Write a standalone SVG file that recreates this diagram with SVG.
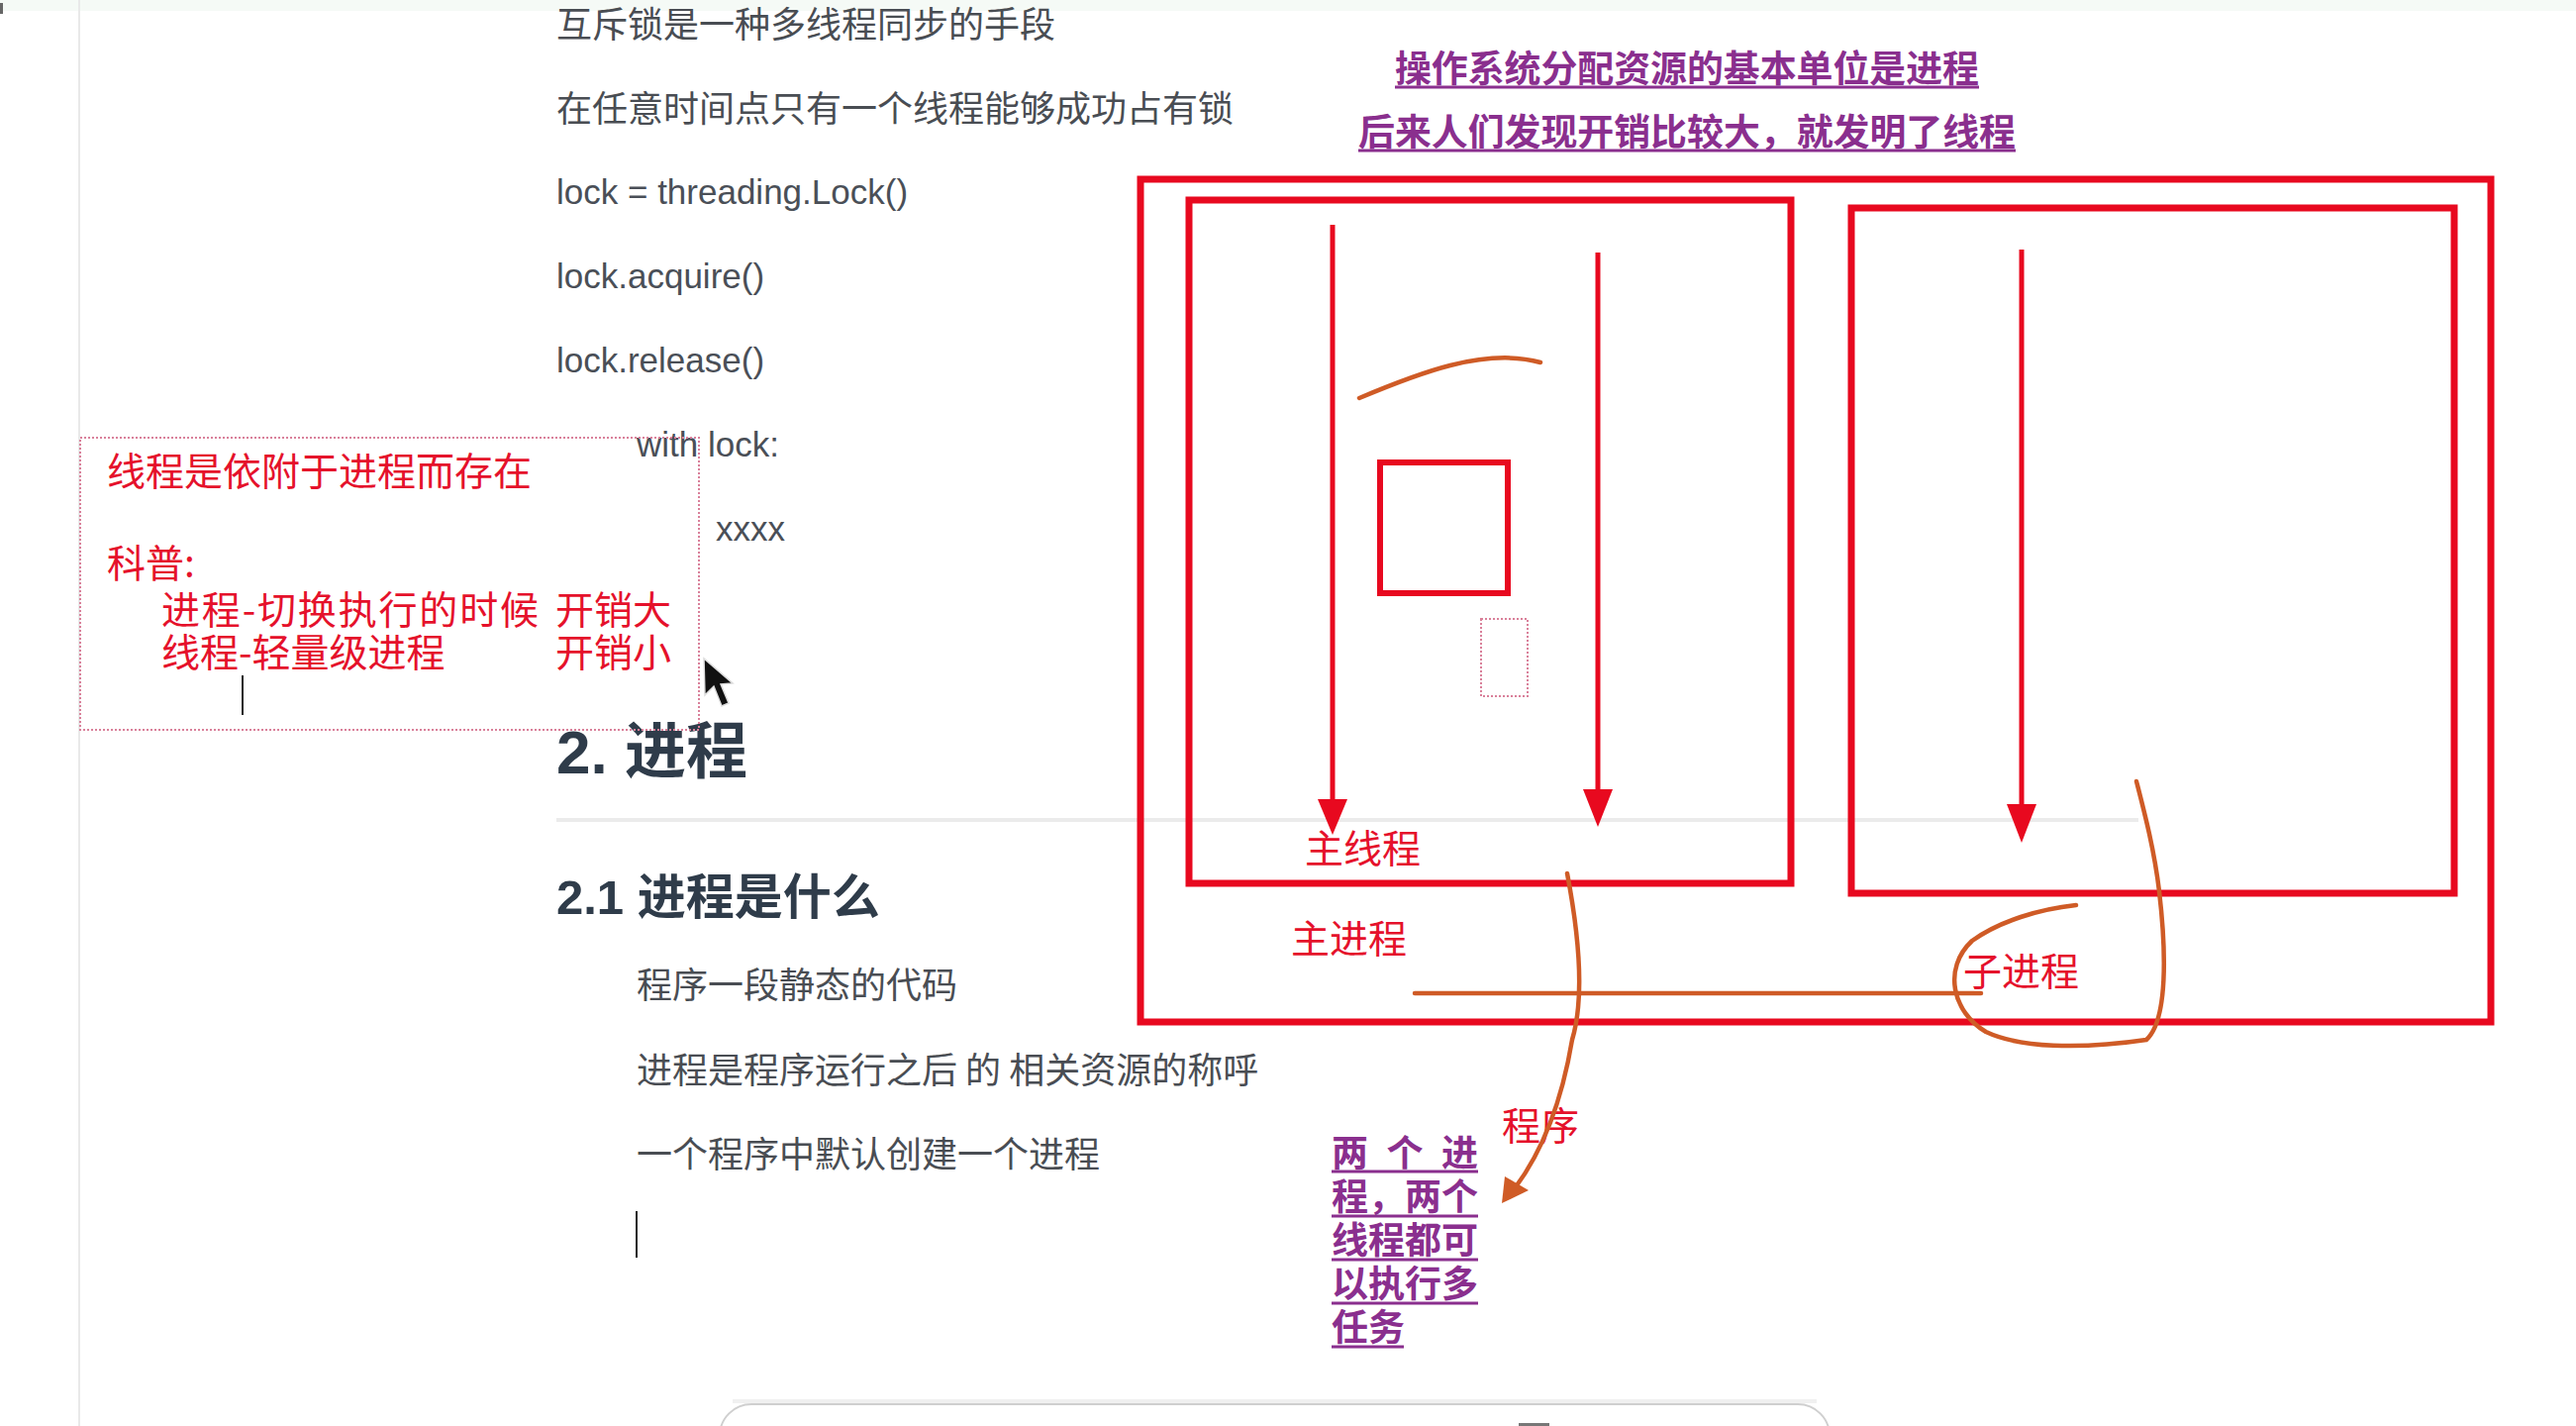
<svg xmlns="http://www.w3.org/2000/svg" width="2602" height="1440" viewBox="0 0 2602 1440">
<style>
.body{font-family:"Noto Sans CJK SC","Liberation Sans",sans-serif;font-size:36px;fill:#494d53}
.code{font-family:"Liberation Sans","Noto Sans CJK SC",sans-serif;font-size:35px;fill:#4a4f57}
.h{font-family:"Liberation Sans","Noto Sans CJK SC",sans-serif;font-weight:bold;fill:#2f3c4a}
.red{font-family:"Noto Sans CJK SC",sans-serif;font-size:39px;fill:#e5112b}
.pur{font-family:"Noto Sans CJK SC",sans-serif;font-size:37px;font-weight:bold;fill:#8a2f8e}
.ul{stroke:#8a2f8e;stroke-width:3}
.box{fill:none;stroke:#e8091f;stroke-width:7}
.arr{stroke:#e8091f;stroke-width:5;fill:none}
.head{fill:#e8091f}
.ink{fill:none;stroke:#cf5b26;stroke-width:4.5;stroke-linecap:round}
.dot{fill:none;stroke:#d9809a;stroke-width:2;stroke-dasharray:2 2}
</style>
<rect width="2602" height="1440" fill="#ffffff"/>
<rect x="0" y="0" width="2602" height="11" fill="#f5faf6"/>
<line x1="1.5" y1="3" x2="1.5" y2="14" stroke="#666" stroke-width="3"/>
<line x1="80" y1="0" x2="80" y2="1440" stroke="#e9e9e9" stroke-width="2"/>

<g id="doc-text">
<text class="body" x="562" y="38">互斥锁是一种多线程同步的手段</text>
<text class="body" x="562" y="123">在任意时间点只有一个线程能够成功占有锁</text>
<text class="code" x="562" y="206">lock = threading.Lock()</text>
<text class="code" x="562" y="291">lock.acquire()</text>
<text class="code" x="562" y="376">lock.release()</text>
<text class="code" x="643" y="461">with lock:</text>
<text class="code" x="723" y="546">xxxx</text>
<text class="h" x="562" y="781" font-size="62">2. 进程</text>
<line x1="562" y1="828" x2="2160" y2="828" stroke="#ebebeb" stroke-width="4"/>
<text class="h" x="562" y="923" font-size="49">2.1 进程是什么</text>
<text class="body" x="643" y="1008">程序一段静态的代码</text>
<text class="body" x="643" y="1094">进程是程序运行之后 的 相关资源的称呼</text>
<text class="body" x="643" y="1179">一个程序中默认创建一个进程</text>
<line x1="643" y1="1223" x2="643" y2="1270" stroke="#222" stroke-width="2"/>
</g>

<g id="note-box">
<rect class="dot" x="81" y="442" width="625" height="295"/>
<text class="red" x="108" y="490">线程是依附于进程而存在</text>
<text class="red" x="108" y="583">科普:</text>
<text class="red" x="163" y="630" textLength="381" lengthAdjust="spacing">进程-切换执行的时候</text>
<text class="red" x="561" y="630">开销大</text>
<text class="red" x="163" y="673">线程-轻量级进程</text>
<text class="red" x="561" y="673">开销小</text>
<line x1="245" y1="682" x2="245" y2="722" stroke="#222" stroke-width="2"/>
</g>

<g id="mouse-cursor">
<polygon points="711,665 712,702 721,693 729,713 736,710 728,691 740,690" fill="#111" stroke="#ddd" stroke-width="1.5"/>
</g>

<g id="title-notes">
<text class="pur" x="1409" y="83" textLength="590" lengthAdjust="spacingAndGlyphs">操作系统分配资源的基本单位是进程</text>
<line class="ul" x1="1409" y1="88" x2="1999" y2="88"/>
<text class="pur" x="1372" y="147" textLength="664" lengthAdjust="spacingAndGlyphs">后来人们发现开销比较大，就发明了线程</text>
<line class="ul" x1="1372" y1="152" x2="2036" y2="152"/>
</g>

<g id="main-process">
<rect class="box" x="1152" y="181" width="1364" height="851"/>
<text class="red" x="1304" y="962">主进程</text>
</g>

<g id="main-process-threads">
<rect class="box" x="1201" y="202" width="608" height="690"/>
<rect fill="none" stroke="#e8091f" stroke-width="6" x="1394" y="467" width="129" height="132"/>
<rect class="dot" x="1496" y="625" width="47" height="78"/>
<text class="red" x="1318" y="871">主线程</text>
</g>

<g id="child-process">
<rect class="box" x="1870" y="210" width="609" height="692"/>
<text class="red" x="1983" y="995">子进程</text>
</g>

<g id="program-label">
<text class="red" x="1517" y="1151" font-size="38">程序</text>
</g>

<g id="multi-task-note">
<text class="pur" x="1345" y="1178" textLength="148" lengthAdjust="spacing">两个进</text>
<line class="ul" x1="1345" y1="1183" x2="1493" y2="1183"/>
<text class="pur" x="1345" y="1222" textLength="148" lengthAdjust="spacing">程，两个</text>
<line class="ul" x1="1345" y1="1228" x2="1493" y2="1228"/>
<text class="pur" x="1345" y="1266">线程都可</text>
<line class="ul" x1="1345" y1="1272" x2="1493" y2="1272"/>
<text class="pur" x="1345" y="1310">以执行多</text>
<line class="ul" x1="1345" y1="1316" x2="1493" y2="1316"/>
<text class="pur" x="1345" y="1354">任务</text>
<line class="ul" x1="1345" y1="1360" x2="1418" y2="1360"/>
</g>

<g id="connectors">
<line class="arr" x1="1346" y1="227" x2="1346" y2="810"/>
<polygon class="head" points="1331,807 1361,807 1346,843"/>
<line class="arr" x1="1614" y1="255" x2="1614" y2="800"/>
<polygon class="head" points="1599,797 1629,797 1614,835"/>
<line class="arr" x1="2042" y1="252" x2="2042" y2="815"/>
<polygon class="head" points="2027,812 2057,812 2042,851"/>
<path class="ink" d="M1373,402 C1430,378 1500,350 1556,366"/>
<path class="ink" d="M1429,1003 L2001,1003"/>
<path class="ink" d="M1583,882 C1596,950 1600,1010 1588,1050 C1578,1110 1560,1160 1530,1200"/>
<polygon points="1517,1215 1520,1188 1544,1202" fill="#cf5b26"/>
<path class="ink" d="M2097,914 C2060,918 2020,930 1992,950 C1962,978 1972,1022 2006,1042 C2040,1058 2100,1060 2168,1050 C2190,1030 2188,960 2181,900 C2176,858 2166,820 2158,789"/>
</g>

<g id="bottom-bar">
<line x1="740" y1="1415" x2="1835" y2="1415" stroke="#f0f0f0" stroke-width="4"/>
<rect x="727" y="1418" width="1121" height="80" rx="32" fill="#ffffff" stroke="#cfcfcf" stroke-width="2"/>
<rect x="1534" y="1437" width="31" height="4" fill="#777"/>
</g>
</svg>
